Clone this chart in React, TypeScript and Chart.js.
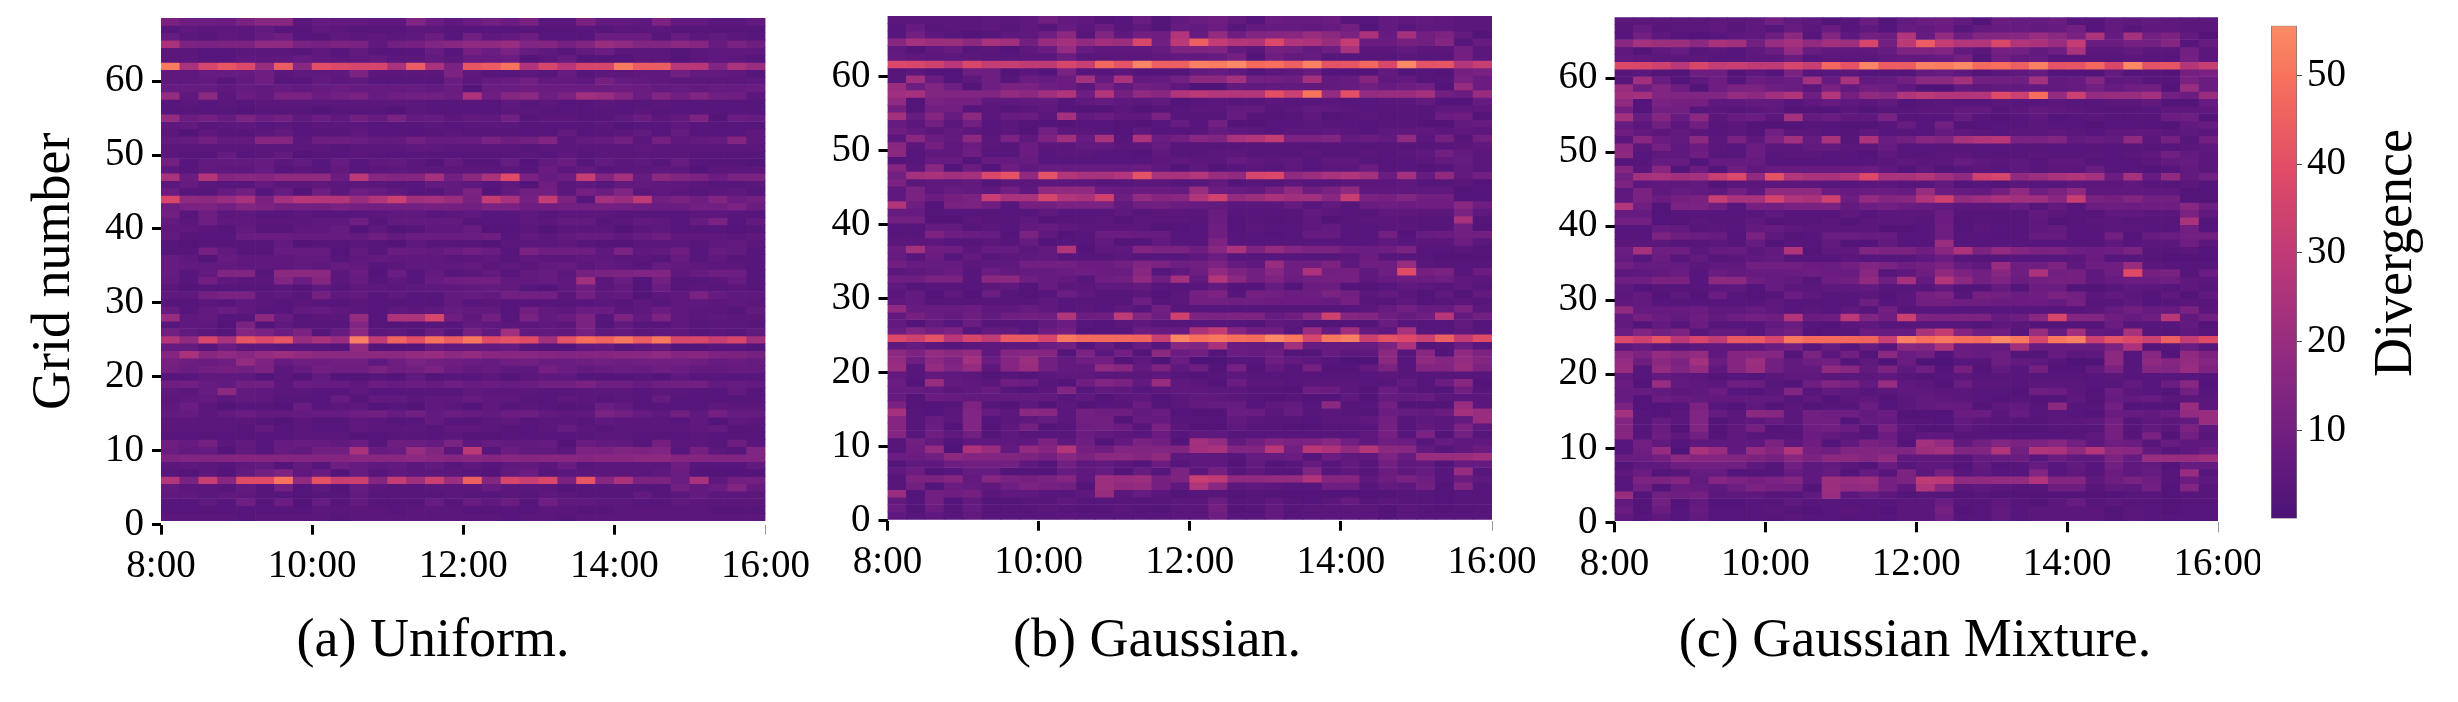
import React, { useEffect, useRef } from "react";
import { Chart, registerables } from "chart.js";
Chart.register(...registerables);

// Cell values, one character per 15-minute bin (see VALUE_CODES: 0-9, a=10 ... T=55),
// rows listed from the top row (grid 67) down to the bottom row (grid 0).
const VALUE_CODES = "0123456789abcdefghijklmnopqrstuvwxyzABCDEFGHIJKLMNOPQRST";

const uniformRows = [
"c998cgg476 655e858a8c 44c665d664 46","3544463354 3334433333 3333444333 33","7435479335 454583a569 3338883746 43","odcddiicbd c5abegiike fbekieehf7 c9",
"4433444353 633373b8c7 5368444245 55","4433555754 5644647782 4722244245 43","QoAGCkIgEC AAoIocGIOq AsAAQIIsse ok","5577794555 d4444d5334 3734455a66 53",
"5563693364 533338478a 665b765444 45","7775767678 7777682889 8888986767 78","j5h486cc8a c79aa8p9fh 9cmkf8eaea 94","3434344444 4444333353 4334334333 33",
"3333233323 3324333344 3333343333 33","j8b7c8a585 a7c67465a3 44335846d2 87","5634534344 4333434443 3334233533 33","4253346333 5332343333 3633463733 35",
"67a66ff499 866a778c9a e467a4b567 f5","4444444443 4445544443 4444454444 44","4337346233 4333333334 3534444433 33","a366674637 3564263372 6836453733 32",
"5365573436 3454444443 8463445524 44","o8rfgfiii8 tgefnahoDc 79wfn7hec8 cc","4743364454 4433665352 9453665543 34","8337a37294 975336d26a a4b8e45434 53",
"Bihkocnsrr kqxmnkcvob vd3nkuac9e 8a","9cdaedaaac baaabbacc9 9aaaa988aa c8","a394533433 3455345335 3444333344 33","6495544455 9366663335 466346537c 36",
"5543633557 2523557224 2444245333 23","6333888777 6968888936 4677579555 45","3233336233 4325333244 4532244435 64","33b6337772 638768a83c 9995c56937 63",
"7527555663 5655544535 4455443735 33","7666555657 6345556454 6746537654 43","736ee3hhh4 8283634636 74bcdee579 93","63a544e8f4 735379aa66 75m482a334 73",
"4233334253 5545556763 2594628343 43","55bcc453b5 63533676aa a4a56245c7 55","3343543433 4333363433 3334353554 54","7368533675 435457663a 6588458544 36",
"k5633h7344 j3ppA95a3c 68d3d6d545 44","3552c25333 e322336544 54c2633534 43","a643fc8d37 h45383b6m6 65b5645534 36","qiAoGCGkok RuKEOIPDFD mFNKPIPBBw Am",
"7738443332 i222756673 2256346223 32","fogigjljhh hhhjkhjggg feffggifgd db","b989jd799a a59ca9879a 889a9aaa97 87","a8abac47a9 9c9ac86755 b867879866 77",
"3355524262 2325233424 5522232533 33","9a76aa4877 5878797878 aac9979aa6 76","547h654433 5333335444 3344434433 63","4564653337 3664557553 3543437333 33",
"5842332834 5232542534 3238633335 44","6746866777 9a7a687689 655ca75a5b 77","4444432433 5433633453 4435444352 54","4444363433 5444355433 4743444456 33",
"3333333444 2233342233 3334433343 33","97b4637876 83987c5766 728663b443 94","86726376aa o78ke4t386 64dcede3b4 3e","deefffffff ggghgfgfgf ggfgghhffe ee",
"4543562639 7564635356 4834444933 36","32426ad582 7354443268 3444445822 22","rcwgDDOiFw xfvmxlJfAw BcGgpdd8o5 aa","644363a252 7433444744 4233333a68 e7",
"5545533233 6333343343 5433363464 44","3353938273 6333737583 9554433544 44","3333333344 4434443333 4433444443 33","4444344443 4444444434 4344444444 44",
];

const gaussianRows = [
"44444545a6 5238268962 8778336565 44","3734453537 4835276836 7767a26355 44","3a5323559h 3e5a9q7j9e fgkhcp7nad 62","gnllhomakn imlBatJvrq Cqpkv88baf 37",
"525734258j 75557dde64 ba69o44644 a4","6544433448 34445667b2 9673333433 b4","CBysBvwuuA wLFSJJRQTM NJRFGLBTFG rw","342299242c 3342226752 4572226232 bc",
"3m82593878 n7o67ahhna a9n67f5633 c8","k9e929cc98 4c6a951165 66667a79a2 k8","mneeeejhmq 9rbigqtrrr ExOjEjkkna 8k","i2cbb55663 5754623433 4334334462 27",
"b2aa343452 2242334466 3465433335 55","n7f7h4784n 6855c33373 2352343338 92","74a4a34222 3322373a22 3343323322 67","96464342a4 4325333754 3445435554 54",
"4g86h4c5dm 7o3p8ageoq vcce686i4b 3a","g4b5843844 6644733333 3333333333 45","h355933834 4332533443 334334345a 64","2377277733 3333454475 4535533346 74",
"f4g2829577 7778525234 3534483323 64","anomnBFiFr oorFoorkiA Ciloqn8n7i 6a","d455624444 4334433623 2433444533 42","5c5765a5ii i87887k876 bi9ci55555 22",
"5c8bcwooAq oy9jfgqzjl ommgwcbeaa 22","q92cd93bac cc69a87644 4736389899 g9","7723333353 3353444833 3364335544 c5","aa22433523 3424443823 2352344333 o2",
"3376343675 4444223924 3356334433 a2","33d9872c52 3887733933 237733a278 aa","4443343723 3622633d33 3333335344 94","8n9947746q 255ecc9gpd jfcc989c33 42",
"7383634563 3343335833 3333483332 22","a777455aaa 88aec9ad75 k99d599k43 33","4568386778 988g359ida g9pab59Dbc 38","99cc3hh976 39ai9n6rha d8abb57889 54",
"5233345274 4556333622 7288223543 53","4625283238 533424bd3b a89ca46425 26","5633333353 333934aa99 8887b33523 43","i777855753 4353a33333 3333347a77 c4",
"6b86969a9q 89ue9ydcdd 79gyfe979s 6a","6263833368 3245333332 5422228333 62","8ead36638a 233877pvf9 93k7m65o33 53","CyFsAuHHAP MMLKwSNPNM TPAPRxFCxJ vD",
"574345558a 37373geo87 7m7777dp23 83","hdjhj5fgf2 c4a2h8a287 922745h3g2 id","j9hdn8fla6 9a25181133 965311h3if jf","k3jej5fka6 6ig6d592b2 63b226c3fe kd",
"6365423245 5444532343 3333334333 33","82k6549832 9ec6k54284 4344433638 g2","776458324e 3653455443 3298428432 a3","7287666663 5245246543 2322527674 44",
"c223d32524 2338246772 563h33a222 k4","n324e74hg4 a996822288 4734328768 nk","f374e24574 aa27733264 332445a354 6k","f382e25b23 9a83c42253 322333b364 d5",
"f395a25333 8643835533 333335b3c2 a3","3a625555d5 926ca2nj6a ecdga59837 55","39j1pk6jfr b9eeeemoee saspirhg63 58","88ahffedbg dhhfi55537 783855d7kk km",
"2559aaa52a 5642835526 237363a562 77","5823772227 57273d4b35 33e3538573 k3","3ddf6fcbcf 5lklbdwuii jjqff59c93 85","3a28759dba 2lijb5qg45 43399365a2 e3",
"k2a9b45533 5k47423323 2222222332 33","62a2622335 3333344833 5324734332 33","8283733343 2343244b23 6344442432 33","5353633334 3333344933 6344442433 33",
];

const mixtureRows = [
"44444545a6 5238268962 8778336565 44","3734453537 4835276836 7767a26355 44","3a5323559h 3e5a9q7j9e fgkhcp7nad 62","gnllhomakn imlAatIvrq Bqpkv88baf 37",
"525734258j 75557dde64 ba69o44644 a4","6544433448 34445667b2 9673333433 b4","CBysBvwuuA wLFSIIRQTM NJRFGLBTFG rw","342299242c 3342226752 4572226232 bc",
"3m82593878 n7o67ahhna a9n67f5633 c8","k9e929cc98 4c6a951165 66667a79a2 k8","mneeeejhmq 9rbigqtrrr DxNjxjkkna 8k","i2cbb55663 5754623433 4334334462 27",
"b2aa343452 2242334466 3465433335 55","n7f7h4784n 6855c33373 2352343338 92","74a4a34222 3322373a22 3343323322 67","96464342a4 4325333754 3445435554 54",
"4g86h4c5dm 7o3p8ageoq scce686i4b 3a","g4b5843844 6644733333 3333333333 45","h355933834 4332533443 334334345a 64","2377277733 3333454475 4535533346 74",
"f4g2829577 7778525234 3534483323 64","anomnwCiFr oorCoormiy Ailoqn8n7i 6a","d455624444 4334433623 2433444533 42","5c5765a5ii i87887k876 bi9ci55555 22",
"5c8bcwoozq oy9jfgqyjl ommgwcbeaa 22","q92cd93bac cc69a87644 4736389899 g9","7723333353 3353444833 3364335544 c5","aa22433523 3424443823 2352344333 o2",
"3376343675 4444223924 3356334433 a2","33d9872c52 3887733933 237733a278 aa","4443343723 3622633k33 3333335344 94","8n9947746q 255ecc9gpd jfcc989c33 42",
"7383634563 3343335833 3333483332 22","a777455aaa 88aec9ad75 k99d599k43 33","4568386778 988g359ida g9pab59Dbc 38","99cc3hh976 39ai9n6rha d8abb57889 54",
"5233345274 4556333622 7288223543 53","4625283238 533424bd3b a89ca46425 26","5633333353 333934aa99 8887b33523 43","i777855753 4353a33333 3333347a77 c4",
"6b86969a9q 89te9xdcdd 79gAfe979s 6a","6263833368 3245333332 5422228333 62","8ead36638a 233877ovf9 93k7m65o33 53","CyFsAuHHAP MMLKwRNPNM TPAPRxFCxJ vD",
"574345558a 37373geo87 7m7777dp23 83","hdjhj5fgf2 c4a2h8a287 922745h3g2 id","j9hdn8fla6 9a25181133 965311h3if jf","k3jej5fka6 6ig6d592b2 63b226c3fe kd",
"6365423245 5444532343 3333334333 33","82k6549832 9ec6k54284 4344433638 g2","776458324e 3653455443 3298428432 a3","7287666663 5245246543 2322527674 44",
"c223d32524 2338246772 563h33a222 k4","n324e74hg4 a996822288 4734328768 jk","f374e24574 aa27733264 332445a354 6k","f382e25b23 9a83c42253 322333b364 d5",
"f395a25333 8643835533 333335b3c2 a3","3a625555d5 926ca2nj6a ecdga59837 55","39j1ok6jfq b9eeeelnee qaqpirhg63 58","88ahffedbg dhhfi55537 783855d7kk km",
"2559aaa52a 5642835526 237363a562 77","5823772227 57273d4b35 33e3538573 k3","3ddf6fcbcf 5lklbdutii jjqff59c93 85","3a28759dba 2lijb5qg45 43399365a2 e3",
"k2a9b45533 5k47423323 2222222332 33","62a2622335 3333344833 5324734332 33","8283733343 2343244b23 6344442432 33","5353633334 3333344933 6344442433 33",
];

const HOUR_TICKS = [8, 10, 12, 14, 16];
const GRID_TICKS = [0, 10, 20, 30, 40, 50, 60];
const COLORBAR_TICKS = [10, 20, 30, 40, 50];
const COLOR_RANGE = [0.05, 55.6];
const CAPTIONS = ["(a) Uniform.", "(b) Gaussian.", "(c) Gaussian Mixture."];

const SERIF = '"Liberation Serif", "Times New Roman", serif';
const ROW_COUNT = 68;
const COLUMN_HOURS = 0.25;
const MAGMA_STOPS = [
  [0.2, 59, 15, 112], [0.3, 100, 26, 128], [0.4, 140, 41, 129], [0.5, 183, 55, 121],
  [0.6, 222, 73, 104], [0.7, 247, 111, 92], [0.8, 254, 159, 109],
];

function colorFor(value: number) {
  const t = 0.24 + ((value - COLOR_RANGE[0]) / (COLOR_RANGE[1] - COLOR_RANGE[0])) * 0.52;
  let i = 0;
  while (i < MAGMA_STOPS.length - 2 && t > MAGMA_STOPS[i + 1][0]) i++;
  const a = MAGMA_STOPS[i], b = MAGMA_STOPS[i + 1];
  const f = (t - a[0]) / (b[0] - a[0]);
  const c = (k: number) => Math.round(a[k] + (b[k] - a[k]) * f);
  return `rgb(${c(1)},${c(2)},${c(3)})`;
}

const decodeRow = (row: string) =>
  row.replace(/ /g, "").split("").map((ch) => VALUE_CODES.indexOf(ch));

const PANELS = [
  { rows: uniformRows, canvasLeft: 0, canvasWidth: 830, left: 161, right: 765.5, top: 18, axisBottom: 524.7, heatBottom: 520.7, yTitle: "Grid number" },
  { rows: gaussianRows, canvasLeft: 810, canvasWidth: 730, left: 887.5, right: 1492, top: 16, axisBottom: 520.7, heatBottom: 519.3, yTitle: "" },
  { rows: mixtureRows, canvasLeft: 1540, canvasWidth: 720, left: 1614.5, right: 2218, top: 17.3, axisBottom: 522.3, heatBottom: 520.7, yTitle: "" },
];

const CAPTION_CENTERS = [433, 1157, 1915];

const tickFont = { family: SERIF, size: 39 };

function panelConfig(p: (typeof PANELS)[number]) {
  const rowPx = (p.heatBottom - p.top) / ROW_COUNT;
  const base = (p.axisBottom - p.heatBottom) / rowPx;
  const yMax = (p.axisBottom - p.top) / rowPx;
  const datasets = p.rows.map((row, t) => {
    const r = ROW_COUNT - 1 - t;
    const values = decodeRow(row);
    return {
      data: values.map((_, c) => ({ x: HOUR_TICKS[0] + (c + 0.5) * COLUMN_HOURS, y: [base + r, base + r + 1] })),
      backgroundColor: values.map(colorFor),
      borderWidth: 0,
    };
  });
  return {
    type: "bar",
    data: { datasets },
    options: {
      animation: false,
      responsive: false,
      events: [],
      layout: { padding: { top: p.top, left: 0, right: p.canvasWidth - (p.right - p.canvasLeft), bottom: 0 } },
      plugins: { legend: { display: false }, tooltip: { enabled: false } },
      datasets: { bar: { grouped: false, barPercentage: 1, categoryPercentage: 1 } },
      scales: {
        x: {
          type: "linear",
          offset: false,
          min: HOUR_TICKS[0],
          max: HOUR_TICKS[HOUR_TICKS.length - 1],
          afterBuildTicks: (s: any) => { s.ticks = HOUR_TICKS.map((value) => ({ value })); },
          afterFit: (s: any) => { s.height = 702 - p.axisBottom; s.paddingLeft = 0; s.paddingRight = 0; },
          border: { display: false },
          grid: {
            offset: false,
            drawOnChartArea: false,
            tickLength: 10,
            tickWidth: (c: any) => (c.index === HOUR_TICKS.length - 1 ? 1 : 3),
            tickColor: (c: any) => (c.index === HOUR_TICKS.length - 1 ? "#999" : "#000"),
          },
          ticks: { color: "#000", font: tickFont, padding: 9, maxRotation: 0, autoSkip: false, callback: (v: number) => `${v}:00` },
        },
        y: {
          type: "linear",
          position: "left",
          min: 0,
          max: yMax,
          afterBuildTicks: (s: any) => { s.ticks = GRID_TICKS.map((value) => ({ value })); },
          afterFit: (s: any) => { s.width = p.left - p.canvasLeft; s.paddingTop = 0; s.paddingBottom = 0; },
          border: { display: false },
          grid: { drawOnChartArea: false, tickLength: 9, tickWidth: 3, tickColor: "#000" },
          ticks: { color: "#000", font: tickFont, padding: 8, autoSkip: false },
          title: p.yTitle
            ? { display: true, text: p.yTitle, color: "#000", font: { family: SERIF, size: 54, lineHeight: 1 }, padding: { top: 28, bottom: 0 } }
            : { display: false },
        },
      },
    },
  };
}

function colorbarConfig() {
  return {
    type: "bar",
    data: {
      labels: ["Divergence"],
      datasets: [{
        data: [COLOR_RANGE],
        borderWidth: 1,
        borderColor: "#777",
        borderSkipped: false,
        backgroundColor: (ctx: any) => {
          const area = ctx.chart.chartArea;
          if (!area) return colorFor(COLOR_RANGE[0]);
          const g = ctx.chart.ctx.createLinearGradient(0, area.bottom, 0, area.top);
          for (let v = 0; v <= 10; v++) {
            const value = COLOR_RANGE[0] + ((COLOR_RANGE[1] - COLOR_RANGE[0]) * v) / 10;
            g.addColorStop(v / 10, colorFor(value));
          }
          return g;
        },
      }],
    },
    options: {
      animation: false,
      responsive: false,
      events: [],
      layout: { padding: { top: 25.7, left: 41, right: 0, bottom: 702 - 518.6 } },
      plugins: { legend: { display: false }, tooltip: { enabled: false } },
      datasets: { bar: { barPercentage: 1, categoryPercentage: 1 } },
      scales: {
        x: { display: false },
        y: {
          type: "linear",
          position: "right",
          min: COLOR_RANGE[0],
          max: COLOR_RANGE[1],
          afterBuildTicks: (s: any) => { s.ticks = COLORBAR_TICKS.map((value) => ({ value })); },
          afterFit: (s: any) => { s.width = 2458 - 2297; s.paddingTop = 0; s.paddingBottom = 0; },
          border: { display: false },
          grid: { drawOnChartArea: false, tickLength: 5, tickWidth: 1, tickColor: "#444" },
          ticks: { color: "#000", font: tickFont, padding: 5, autoSkip: false },
        },
      },
    },
  };
}

function ChartCanvas({ config, left, width }: { config: () => any; left: number; width: number }) {
  const ref = useRef<HTMLCanvasElement>(null);
  useEffect(() => {
    const chart = new Chart(ref.current as HTMLCanvasElement, config());
    return () => chart.destroy();
  }, []);
  return <canvas ref={ref} width={width} height={702} style={{ position: "absolute", left, top: 0, width, height: 702 }} />;
}

export default function App() {
  return (
    <div style={{ position: "absolute", left: 0, top: 0, width: 2458, height: 702, background: "#fff", overflow: "hidden" }}>
      {PANELS.map((p, i) => (
        <ChartCanvas key={i} config={() => panelConfig(p)} left={p.canvasLeft} width={p.canvasWidth} />
      ))}
      <ChartCanvas config={colorbarConfig} left={2230} width={228} />
      {CAPTIONS.map((text, i) => (
        <div key={text} style={{
          position: "absolute", left: CAPTION_CENTERS[i] - 300, width: 600, top: 608,
          textAlign: "center", font: `54px/60px ${SERIF}`, color: "#000",
        }}>{text}</div>
      ))}
      <div style={{
        position: "absolute", left: 2393 - 200, top: 253 - 30, width: 400, height: 60,
        textAlign: "center", font: `54px/60px ${SERIF}`, color: "#000", transform: "rotate(-90deg)",
      }}>Divergence</div>
    </div>
  );
}
